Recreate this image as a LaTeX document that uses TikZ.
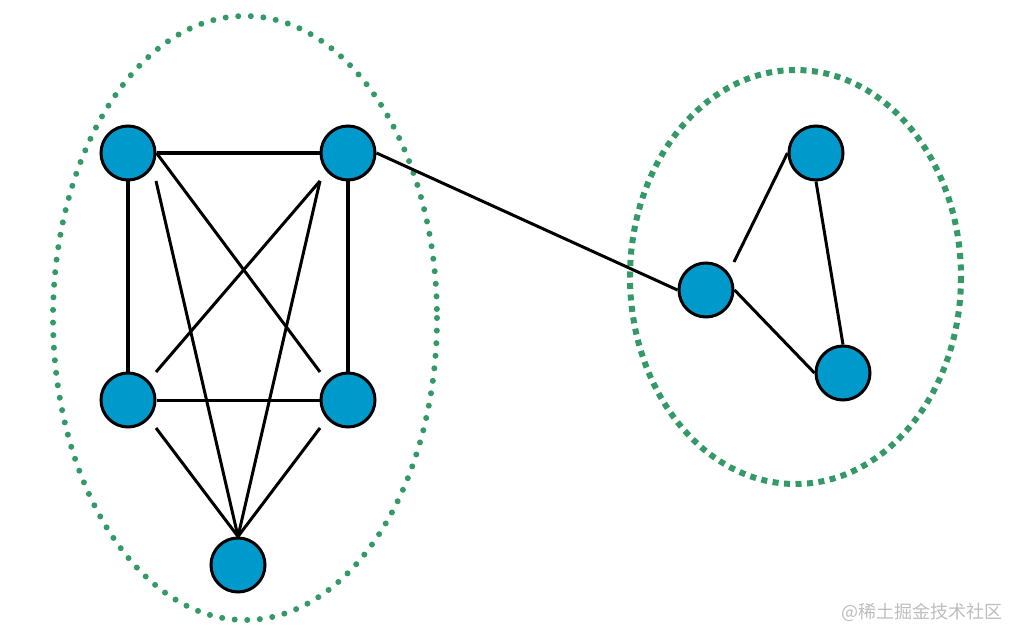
\documentclass[tikz,border=0pt]{standalone}
\usepackage{fontspec}
\newfontfamily\cjk{Noto Sans CJK SC}
\usetikzlibrary{calc}
\definecolor{nodeblue}{HTML}{0099CC}
\definecolor{dotgreen}{HTML}{339966}
\definecolor{wmgray}{HTML}{BDBDBD}
\begin{document}
\begin{tikzpicture}[x=1pt,y=-1pt,
  vert/.style={circle,draw=black,line width=3pt,fill=nodeblue,minimum size=54pt,inner sep=0pt},
  edge/.style={line width=3pt,black},
  thickedge/.style={line width=4.5pt,black},
  dotring/.style={dotgreen,line width=6pt,line cap=round,dash pattern=on 0pt off 12.6pt},
  dashring/.style={dotgreen,line width=6pt,dash pattern=on 6pt off 5.5pt}]
\useasboundingbox (0,0) rectangle (1010,631);
\draw[dotring] (245,318) ellipse [x radius=192, y radius=302];
\draw[dashring] (795.5,277) ellipse [x radius=165.5, y radius=207];
\node[vert] (A) at (128,153) {};
\node[vert] (B) at (348,153) {};
\node[vert] (C) at (128,400) {};
\node[vert] (D) at (348,400) {};
\node[vert] (E) at (238,565) {};
\node[vert] (G) at (816,153) {};
\node[vert] (F) at (706,290) {};
\node[vert] (H) at (843,373) {};
\draw[thickedge] (A) -- (B);
\draw[thickedge] (A) -- (C);
\draw[thickedge] (B) -- (D);
\draw[edge] (C) -- (D);
\draw[edge] (A.east) -- ($(D)+(-28,-28)$);
\draw[edge] ($(B)+(-28,28)$) -- ($(C)+(28,-28)$);
\draw[edge] ($(A)+(28,28)$) -- (E.north);
\draw[edge] ($(B)+(-28,28)$) -- (E.north);
\draw[edge] ($(C)+(28,28)$) -- (E.north);
\draw[edge] ($(D)+(-28,28)$) -- (E.north);
\draw[edge] (B.east) -- (F.west);
\draw[edge] ($(F)+(28,-28)$) -- (G.west);
\draw[edge] (G.south) -- (H.north);
\draw[edge] (F.east) -- (H.west);
\node[text=wmgray,font=\cjk\fontsize{18}{18}\selectfont,anchor=east,inner sep=0pt] (wm) at (1003,612) {@稀土掘金技术社区};
\end{tikzpicture}
\end{document}
